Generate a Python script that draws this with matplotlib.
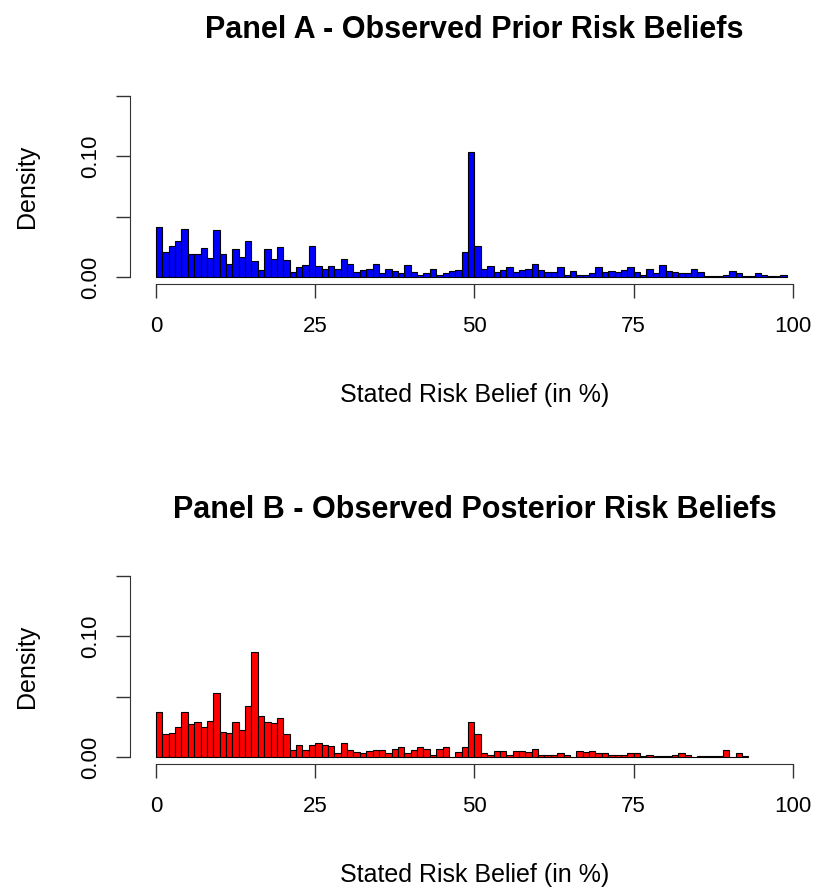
import matplotlib.pyplot as plt
import numpy as np

plt.rcParams['font.family'] = ['Liberation Sans', 'DejaVu Sans']

# density per 1-point bin, starting at 0
prior_density = [0.041, 0.021, 0.026, 0.030, 0.040, 0.019, 0.019, 0.024, 0.016, 0.039,
                 0.019, 0.011, 0.023, 0.017, 0.030, 0.013, 0.006, 0.023, 0.015, 0.025,
                 0.014, 0.004, 0.008, 0.010, 0.026, 0.009, 0.007, 0.009, 0.007, 0.015,
                 0.011, 0.004, 0.006, 0.007, 0.011, 0.003, 0.007, 0.005, 0.003, 0.010,
                 0.004, 0.002, 0.003, 0.007, 0.002, 0.003, 0.005, 0.006, 0.021, 0.103,
                 0.026, 0.007, 0.009, 0.004, 0.006, 0.008, 0.004, 0.006, 0.007, 0.011,
                 0.006, 0.004, 0.004, 0.008, 0.002, 0.005, 0.002, 0.002, 0.003, 0.008,
                 0.004, 0.005, 0.004, 0.006, 0.008, 0.004, 0.002, 0.007, 0.003, 0.010,
                 0.005, 0.004, 0.003, 0.003, 0.007, 0.004, 0.001, 0.001, 0.001, 0.002,
                 0.005, 0.003, 0.001, 0.001, 0.003, 0.002, 0.0005, 0.0005, 0.0015]

posterior_density = [0.037, 0.019, 0.020, 0.025, 0.037, 0.027, 0.029, 0.025, 0.030, 0.053,
                     0.021, 0.020, 0.029, 0.022, 0.042, 0.087, 0.034, 0.029, 0.028, 0.032,
                     0.019, 0.006, 0.010, 0.006, 0.010, 0.012, 0.010, 0.009, 0.003, 0.012,
                     0.006, 0.004, 0.003, 0.005, 0.006, 0.006, 0.003, 0.007, 0.008, 0.003,
                     0.006, 0.008, 0.007, 0.002, 0.007, 0.008, 0.0, 0.004, 0.008, 0.029,
                     0.019, 0.003, 0.002, 0.005, 0.005, 0.002, 0.005, 0.005, 0.004, 0.007,
                     0.002, 0.002, 0.002, 0.003, 0.002, 0.0, 0.005, 0.004, 0.005, 0.003,
                     0.003, 0.002, 0.002, 0.002, 0.003, 0.003, 0.001, 0.002, 0.0005, 0.001,
                     0.0005, 0.0015, 0.003, 0.0015, 0.0, 0.001, 0.001, 0.001, 0.001, 0.006,
                     0.0, 0.003, 0.001]

titles = ['Panel A - Observed Prior Risk Beliefs',
          'Panel B - Observed Posterior Risk Beliefs']
colors = ['#0000ff', '#ff0000']
xticks = [0, 25, 50, 75, 100]
yticks = [0, 0.05, 0.10, 0.15]
ytick_labels = ['0.00', '', '0.10', '']

fig = plt.figure(figsize=(8.17, 8.88), dpi=100)
ax_a = fig.add_axes([0.1597, 0.6798, 0.842, 0.2207])
ax_b = fig.add_axes([0.1597, 0.1393, 0.842, 0.2207])

for ax, dens, title, col in zip([ax_a, ax_b], [prior_density, posterior_density], titles, colors):
    left = np.arange(len(dens))
    ax.bar(left, dens, width=1, align='edge', color=col, edgecolor='black', linewidth=0.8)
    ax.set_xlim(-4, 104)
    ax.set_ylim(-0.006, 0.156)
    for s in ['top', 'right']:
        ax.spines[s].set_visible(False)
    ax.spines['left'].set_bounds(0, 0.15)
    ax.spines['bottom'].set_bounds(0, 100)
    ax.spines['left'].set_color('#333333')
    ax.spines['bottom'].set_color('#333333')
    ax.set_xticks(xticks)
    ax.set_xticklabels([str(t) for t in xticks])
    ax.set_yticks(yticks)
    ax.set_yticklabels(ytick_labels, rotation=90, va='center')
    ax.tick_params(axis='both', length=10, width=1, color='#333333', labelsize=16)
    ax.tick_params(axis='x', pad=13)
    ax.tick_params(axis='y', pad=11)
    ax.set_xlabel('Stated Risk Belief (in %)', fontsize=18, labelpad=33)
    ax.set_ylabel('Density', fontsize=18, labelpad=30)
    ax.set_title(title, fontsize=22, fontweight='bold', pad=36)

fig.savefig('out.png', dpi=100)
